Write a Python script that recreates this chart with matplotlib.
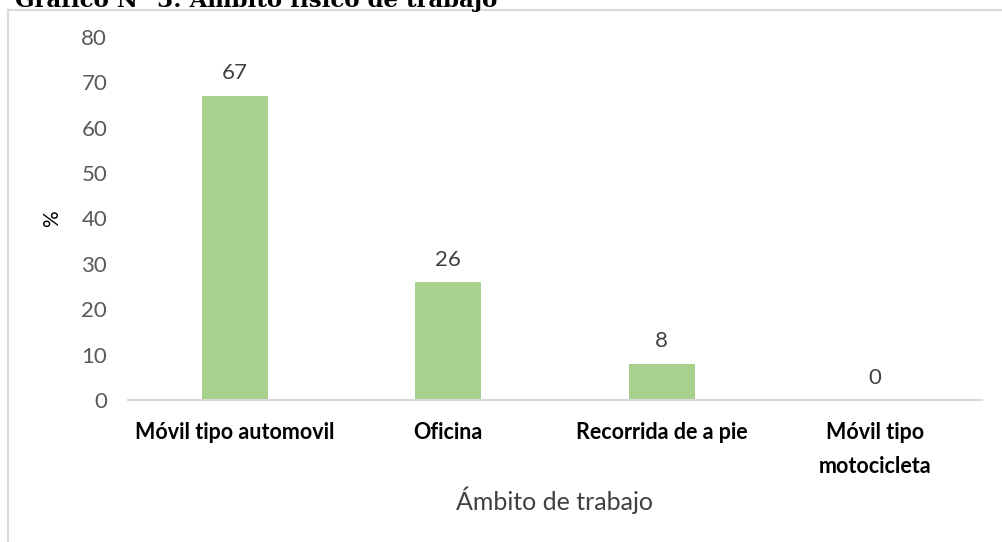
import matplotlib
matplotlib.use("Agg")
import matplotlib.pyplot as plt
from matplotlib.lines import Line2D

categories = ["Móvil tipo automovil", "Oficina", "Recorrida de a pie", "Móvil tipo\nmotocicleta"]
values = [67, 26, 8, 0]
yticks = [0, 10, 20, 30, 40, 50, 60, 70, 80]

plt.rcParams['font.family'] = ['Lato', 'DejaVu Sans']

fig = plt.figure(figsize=(10.02, 5.42), dpi=100)
ax = fig.add_axes([128/1002, 1-400/542, (982-128)/1002, (400-37)/542])

x = list(range(len(categories)))
bars = ax.bar(x, values, width=0.31, color="#a9d18e")
ax.set_xlim(-0.5, len(categories)-0.5)
ax.set_ylim(0, 80)
ax.set_yticks(yticks)
ax.set_yticklabels([str(t) for t in yticks], fontsize=16, color="#595959")
ax.set_xticks(x)
ax.set_xticklabels(categories, fontsize=15.5, fontweight="bold", color="black", linespacing=1.75)
ax.tick_params(axis="both", length=0)
ax.tick_params(axis="y", pad=15)
ax.tick_params(axis="x", pad=16)
for s in ["top", "right", "left"]:
    ax.spines[s].set_visible(False)
ax.spines["bottom"].set_color("#d9d9d9")
ax.spines["bottom"].set_linewidth(1.5)

for xi, v in zip(x, values):
    ax.annotate(str(v), (xi, v), xytext=(0, 9), textcoords="offset points",
                ha="center", va="bottom", fontsize=16, color="#404040")

ax.set_ylabel("%", fontsize=15, color="black", labelpad=14)
ax.set_xlabel("Ámbito de trabajo", fontsize=18, color="#404040", labelpad=7)

# chart border
fig.add_artist(Line2D([8/1002, 8/1002], [0, 1-10/542], transform=fig.transFigure, color="#d9d9d9", lw=1.5))
fig.add_artist(Line2D([8/1002, 1], [1-10/542, 1-10/542], transform=fig.transFigure, color="#d9d9d9", lw=1.5))

fig.text(15/1002, 1-7/542, "Gráfico N° 3: Ámbito físico de trabajo", fontsize=16.5,
         fontweight="bold", family="DejaVu Serif", va="baseline", ha="left", color="black")

fig.savefig("out.png", dpi=100)
